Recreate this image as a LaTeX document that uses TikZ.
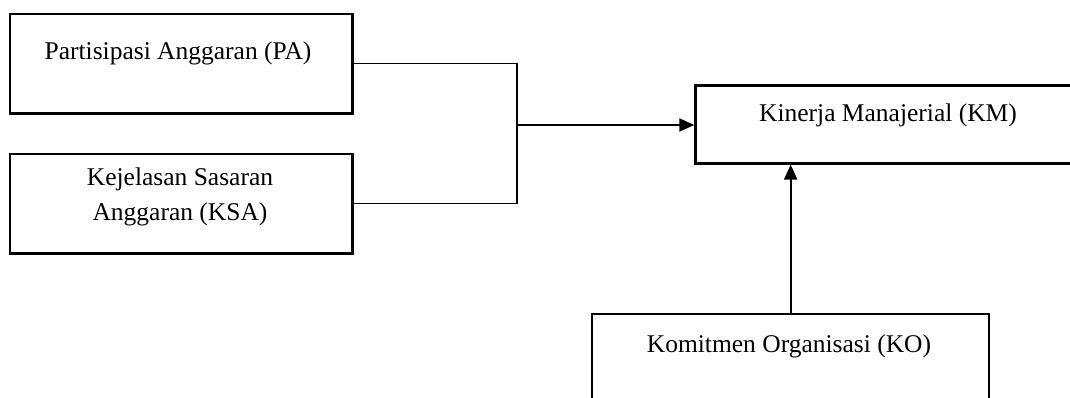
\documentclass[tikz,border=0pt]{standalone}
\usepackage{fontspec}
\setmainfont{Liberation Serif}
\usetikzlibrary{arrows.meta}
\tikzset{
  box/.style={draw=black, line width=2.3pt, fill=none, inner sep=0pt, anchor=north west},
  lbl/.style={inner sep=0pt, anchor=base, font=\fontsize{25.5}{30}\selectfont},
  thin/.style={draw=black, line width=1.3pt},
  arr/.style={draw=black, line width=2.1pt, -{Triangle[length=15pt,width=13pt]}}
}
\begin{document}
\begin{tikzpicture}[x=1pt,y=-1pt]
\useasboundingbox (0,0) rectangle (1070,397);
\clip (0,0) rectangle (1070,397);
% boxes
\node[box, minimum width=342.5pt, minimum height=99.4pt] (PA) at (8.7,12.8) {};
\node[box, minimum width=342.5pt, minimum height=99.7pt] (KSA) at (8.7,152.5) {};
\node[box, minimum width=388pt, minimum height=78pt] (KM) at (694.3,84.3) {};
\node[box, minimum width=397pt, minimum height=110pt] (KO) at (591,313) {};
% labels
\node[lbl] (PAt) at (178,59.3) {Partisipasi Anggaran (PA)};
\node[lbl] (KSAt1) at (180,185.6) {Kejelasan Sasaran};
\node[lbl] (KSAt2) at (180,220.2) {Anggaran (KSA)};
\node[lbl] (KMt) at (888,121) {Kinerja Manajerial (KM)};
\node[lbl] (KOt) at (789,352.7) {Komitmen Organisasi (KO)};
% connectors
\coordinate (J) at (517,125);
\draw[thin] (PA.east) -- (PA.east -| J) -- (KSA.east -| J) -- (KSA.east);
\draw[arr] (J) -- (J -| KM.west);
\draw[arr] (KO.north) -- (KO.north |- KM.south);
\end{tikzpicture}
\end{document}
